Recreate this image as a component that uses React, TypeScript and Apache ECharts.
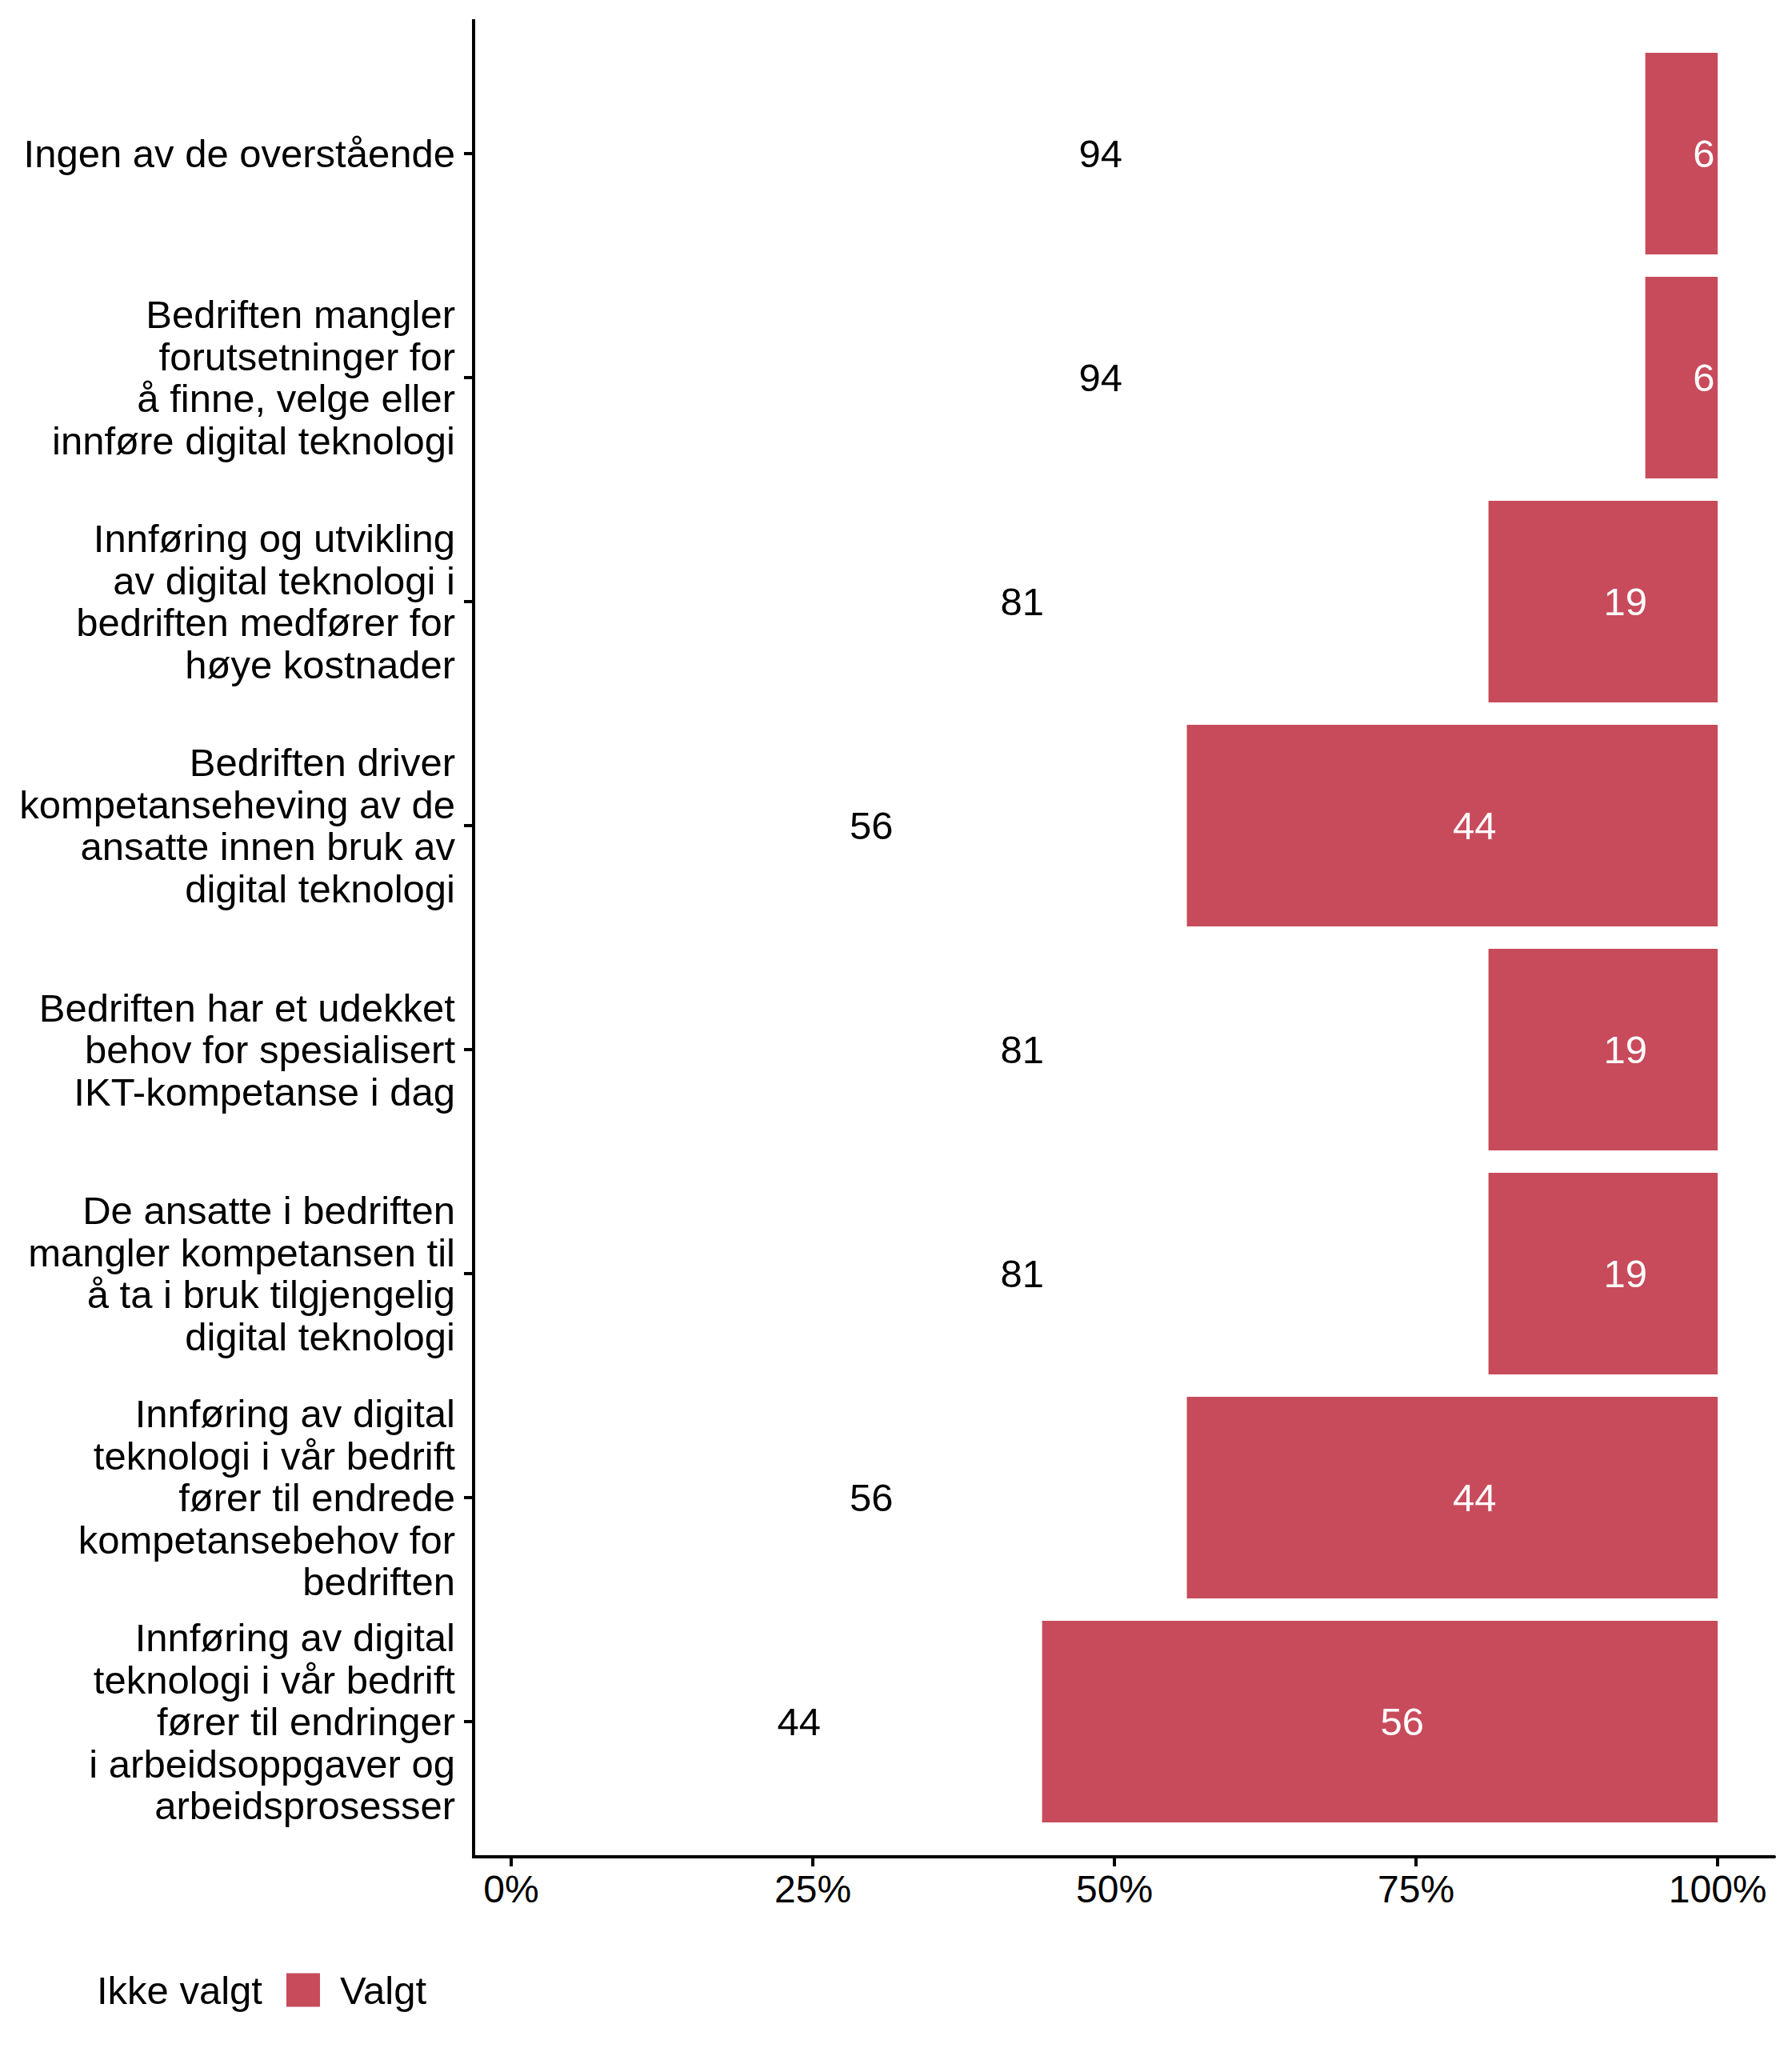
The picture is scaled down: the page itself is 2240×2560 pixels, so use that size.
import React, { useEffect, useRef } from "react";
import * as echarts from "echarts";

const categories: string[] = [
  "Ingen av de overstående",
  "Bedriften mangler\nforutsetninger for\nå finne, velge eller\ninnføre digital teknologi",
  "Innføring og utvikling\nav digital teknologi i\nbedriften medfører for\nhøye kostnader",
  "Bedriften driver\nkompetanseheving av de\nansatte innen bruk av\ndigital teknologi",
  "Bedriften har et udekket\nbehov for spesialisert\nIKT-kompetanse i dag",
  "De ansatte i bedriften\nmangler kompetansen til\nå ta i bruk tilgjengelig\ndigital teknologi",
  "Innføring av digital\nteknologi i vår bedrift\nfører til endrede\nkompetansebehov for\nbedriften",
  "Innføring av digital\nteknologi i vår bedrift\nfører til endringer\ni arbeidsoppgaver og\narbeidsprosesser",
];

const ikkeValgt: number[] = [94, 94, 81, 56, 81, 81, 56, 44];
const valgt: number[] = [6, 6, 19, 44, 19, 19, 44, 56];
const tickValues: number[] = [0, 25, 50, 75, 100];
const seriesNames: string[] = ["Ikke valgt", "Valgt"];

const FONT = "'Liberation Sans', Arial, Helvetica, sans-serif";
const RED = "#C84B5B";

export default function App() {
  const ref = useRef<HTMLDivElement>(null);

  useEffect(() => {
    document.body.style.margin = "0";
    if (!ref.current) return;
    const chart = echarts.init(ref.current, undefined, { renderer: "svg" });

    const gridLeft = 592;
    const gridRight = 22;
    const gridTop = 52;
    const gridBottom = 268;
    const axisTopY = 24;
    const xAxisY = 2321;

    chart.setOption({
      animation: false,
      backgroundColor: "#ffffff",
      textStyle: { fontFamily: FONT },
      grid: {
        left: gridLeft,
        right: gridRight,
        top: gridTop,
        bottom: gridBottom,
        containLabel: false,
      },
      legend: {
        data: seriesNames,
        left: 49,
        top: 2458,
        icon: "rect",
        itemWidth: 42,
        itemHeight: 42,
        itemGap: 30,
        textStyle: {
          fontFamily: FONT,
          fontSize: 49,
          color: "#000000",
          padding: [0, 0, 0, 20],
        },
      },
      xAxis: {
        type: "value",
        min: -3.12,
        max: 104.7,
        offset: xAxisY - (2560 - gridBottom),
        splitLine: { show: false },
        axisLine: { show: true, onZero: false, lineStyle: { color: "#000000", width: 4 } },
        axisTick: {
          show: true,
          length: 12,
          customValues: tickValues,
          lineStyle: { color: "#000000", width: 4 },
        },
        axisLabel: {
          customValues: tickValues,
          formatter: (v: number) => `${v}%`,
          fontFamily: FONT,
          fontSize: 48,
          color: "#000000",
          margin: 16,
        },
      },
      yAxis: {
        type: "category",
        data: categories,
        inverse: true,
        axisLine: { show: false, onZero: false },
        axisTick: {
          show: true,
          alignWithLabel: true,
          length: 12,
          lineStyle: { color: "#000000", width: 4 },
        },
        axisLabel: {
          fontFamily: FONT,
          fontSize: 49,
          lineHeight: 52.5,
          color: "#000000",
          margin: 23,
        },
        splitLine: { show: false },
      },
      graphic: [
        {
          type: "line",
          shape: { x1: gridLeft, y1: axisTopY, x2: gridLeft, y2: xAxisY + 2 },
          style: { stroke: "#000000", lineWidth: 4 },
          z: 10,
        },
      ],
      series: [
        {
          name: seriesNames[0],
          type: "bar",
          stack: "total",
          data: ikkeValgt,
          barCategoryGap: "10%",
          itemStyle: { color: "rgba(0,0,0,0)" },
          label: {
            show: true,
            position: "inside",
            offset: [28, 0],
            color: "#000000",
            fontFamily: FONT,
            fontSize: 49,
          },
          emphasis: { disabled: true },
        },
        {
          name: seriesNames[1],
          type: "bar",
          stack: "total",
          data: valgt,
          barCategoryGap: "10%",
          itemStyle: { color: RED },
          label: {
            show: true,
            position: "inside",
            offset: [28, 0],
            color: "#ffffff",
            fontFamily: FONT,
            fontSize: 49,
          },
          emphasis: { disabled: true },
        },
      ],
    });

    return () => {
      chart.dispose();
    };
  }, []);

  return <div ref={ref} style={{ width: 2240, height: 2560 }} />;
}
